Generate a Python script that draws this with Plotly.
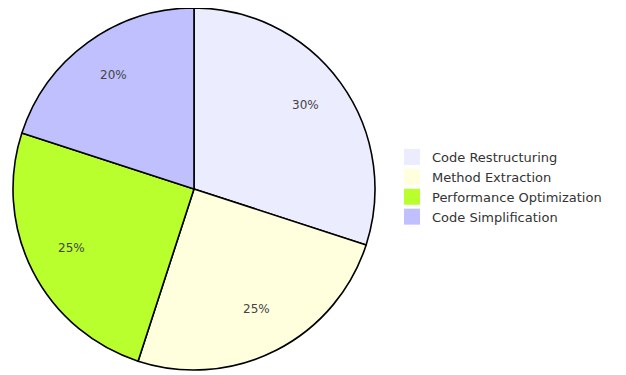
import math
import plotly.graph_objects as go

labels = ["Code Restructuring", "Method Extraction", "Performance Optimization", "Code Simplification"]
values = [30, 25, 25, 20]
colors = ["#ECECFF", "#FFFFDE", "#B9FF2E", "#C0C0FF"]

W, H = 626, 375
# layout-space geometry (page has an 8px body margin)
cx, cy, r = 186, 181, 181

fig = go.Figure()
fig.add_trace(go.Pie(
    labels=labels,
    values=values,
    sort=False,
    direction="clockwise",
    rotation=0,
    marker=dict(colors=colors, line=dict(color="#000000", width=1.6)),
    textinfo="none",
    domain=dict(x=[(cx - r) / W, (cx + r) / W], y=[(H - cy - r) / H, (H - cy + r) / H]),
    hoverinfo="label+percent",
    showlegend=False,
))

# percentage labels placed along each slice's mid-angle
total = sum(values)
acc = 0
for v in values:
    mid = (acc + v / 2) / total * 2 * math.pi
    acc += v
    rr = 0.76 * r
    px = cx + rr * math.sin(mid)
    py = cy - rr * math.cos(mid)
    fig.add_annotation(
        x=px / W, y=1 - py / H, xref="paper", yref="paper",
        xanchor="center", yanchor="middle", yshift=3,
        text=f"{round(v / total * 100)}%", showarrow=False,
        font=dict(family="DejaVu Sans", size=12, color="#444444"),
    )

# legend entries
for lab, col in zip(labels, colors):
    fig.add_trace(go.Scatter(
        x=[None], y=[None], mode="markers", name=lab,
        marker=dict(symbol="square", size=16, color=col, line=dict(width=0)),
        showlegend=True, hoverinfo="skip",
    ))

fig.update_layout(
    width=W, height=H,
    margin=dict(l=0, r=0, t=0, b=0),
    paper_bgcolor="white",
    plot_bgcolor="white",
    xaxis=dict(visible=False),
    yaxis=dict(visible=False),
    showlegend=True,
    legend=dict(
        x=384 / W, y=(H - 134) / H, xanchor="left", yanchor="top",
        font=dict(family="DejaVu Sans", size=13, color="#333333"),
        itemwidth=30,
        bgcolor="rgba(0,0,0,0)",
    ),
)

fig.write_html("out.html")
